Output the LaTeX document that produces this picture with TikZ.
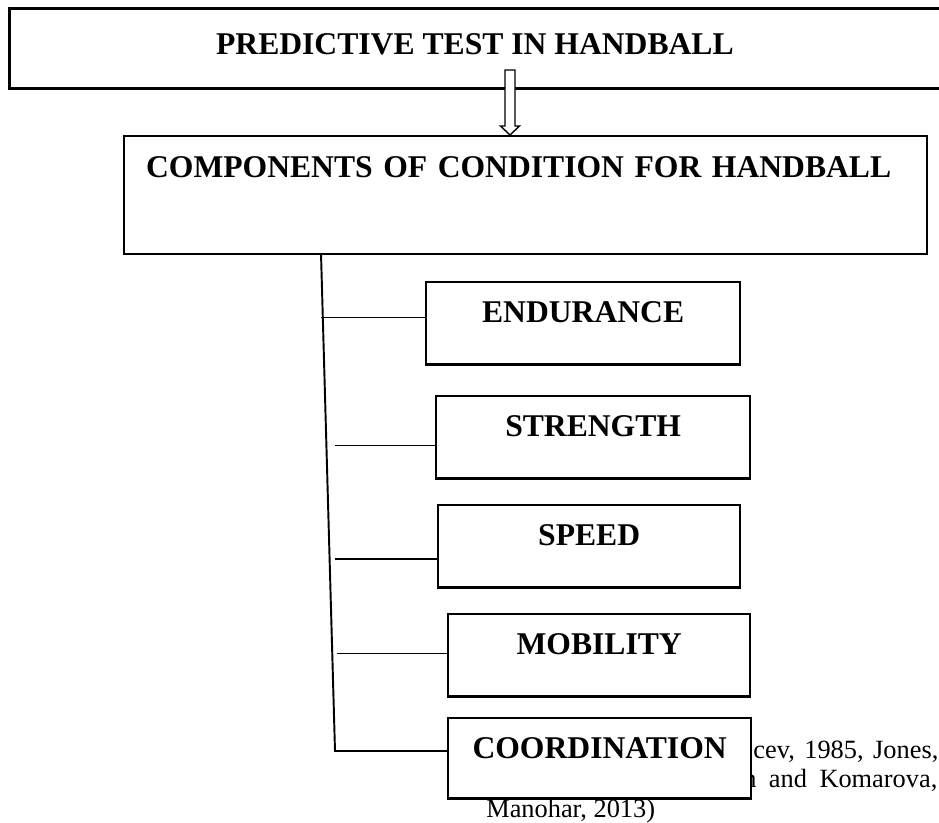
\documentclass[tikz,border=0pt]{standalone}
\usepackage{fontspec}
\setmainfont{Liberation Serif}
\begin{document}
\begin{tikzpicture}[scale=1,
			box/.style={draw, fill=white, line width=1.3pt, anchor=north west, font=\bfseries\fontsize{18}{22}\selectfont, text height=0.42cm, text depth=0.45cm, inner ysep=0.39cm},
			link/.style={line width=1.1pt},
			cite/.style={anchor=base west, inner sep=0pt, font=\fontsize{15}{18}\selectfont}
			]
			\useasboundingbox (0,0) rectangle (18.78,-16.46);
			\clip (0,0) rectangle (18.78,-16.46);
			
			% Nodes
			\node[box, line width=1.6pt, minimum width=18.62cm, inner ysep=0.49cm, text depth=0.2cm] (title) at (0.16,-0.146) {PREDICTIVE TEST IN HANDBALL};
			
			\coordinate (tip) at (10.2,-2.70);
			\draw[line width=0.8pt, fill=white] (tip) -- ++(0.19,0.18) -- ++(-0.09,0) -- ++(0,1.12) -- ++(-0.2,0) -- ++(0,-1.12) -- ++(-0.09,0) -- cycle;
			
			\node[box, line width=1.2pt, text width=15.17cm, align=left, inner xsep=0.446cm, inner ysep=0.40cm, text depth=1.146cm] (comp) at (2.454,-2.70) {COMPONENTS OF CONDITION FOR HANDBALL};
			
			\node[box, minimum width=6.28cm] (c1) at (8.50,-5.62) {ENDURANCE};
			\node[box, minimum width=6.28cm] (c2) at (8.70,-7.90) {STRENGTH};
			\node[box, minimum width=6.04cm] (c3) at (8.74,-10.08) {SPEED};
			\node[box, minimum width=6.04cm] (c4) at (8.94,-12.26) {MOBILITY};
			
			\node[cite] (r1) at (15.06,-15.18) {\makebox[3.70cm][s]{cev, 1985, Jones,}};
			\node[cite] (r2) at (14.86,-15.76) {\makebox[3.88cm][s]{n and Komarova,}};
			\node[cite] (r3) at (9.72,-16.36) {Manohar, 2013)};
			
			\node[box, minimum width=6.06cm, text depth=0.41cm] (c5) at (8.94,-14.34) {COORDINATION};
			
			% Edges
			\coordinate (s0) at (6.42,-5.066);
			\coordinate (b1) at (6.41,-6.35);
			\coordinate (b2) at (6.70,-8.91);
			\coordinate (b3) at (6.70,-11.18);
			\coordinate (b4) at (6.73,-13.07);
			\coordinate (b5) at (6.70,-15.02);
			
			\draw[link] (s0) -- (b5) -- (b5 -| c5.west);
			\draw[link] (b1) -- (b1 -| c1.west);
			\draw[link] (b2) -- (b2 -| c2.west);
			\draw[link] (b3) -- (b3 -| c3.west);
			\draw[link] (b4) -- (b4 -| c4.west);
			
		\end{tikzpicture}
\end{document}
